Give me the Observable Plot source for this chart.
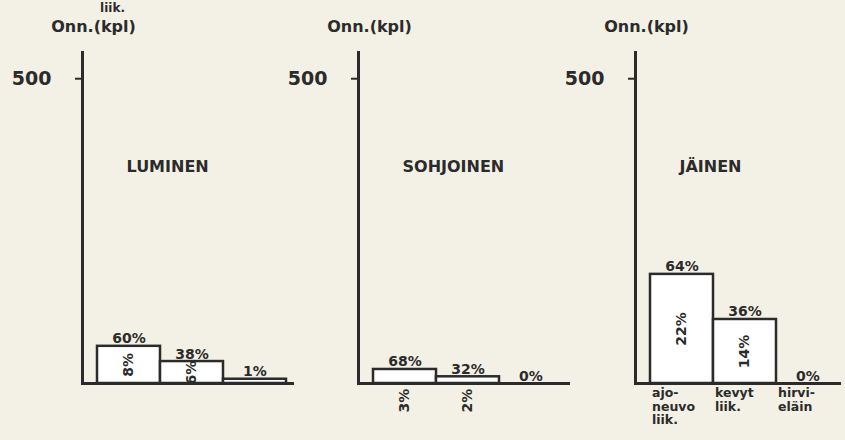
<!DOCTYPE html>
<html><head><meta charset="utf-8">
<script src="https://cdn.jsdelivr.net/npm/d3@7"></script>
<script src="https://cdn.jsdelivr.net/npm/@observablehq/plot@0.6"></script>
<style>
html,body{margin:0;padding:0;background:#f3f1e5;overflow:hidden;width:845px;height:440px;}
#chart{position:relative;width:845px;height:440px;}
#chart svg{position:absolute;top:0;}
</style></head><body><div id="chart"></div>
<script>
// ---- data ----
const categories = ["ajoneuvo liik.", "kevyt liik.", "hirvieläin"];
const categoryLabels = ["ajo-\nneuvo\nliik.", "kevyt\nliik.", "hirvi-\neläin"];
const panelTitles = ["LUMINEN", "SOHJOINEN", "JÄINEN"];
const yLabel = "Onn.(kpl)";
const yTicks = [500];
const lumCounts = [61, 36, 7];
const sohCounts = [23, 11, 0];
const jaiCounts = [179, 105, 0];
const lumShare = [60, 38, 1];
const sohShare = [68, 32, 0];
const jaiShare = [64, 36, 0];
const lumInner = [8, 6, null];
const sohInner = [3, 2, null];
const jaiInner = [22, 14, null];

const INK = "#2b2b2b";
const chart = document.getElementById("chart");

function panel(title, counts, shares, inner, showCats, left, width, marginRight, extraTop) {
  const rows = categories.map((c, i) => ({cat: c, label: categoryLabels[i], n: counts[i], share: shares[i], inner: inner[i]}));
  const AX = 82;
  const marks = [
    Plot.barY(rows, {x: "cat", y: "n", fill: "white", stroke: INK, strokeWidth: 2.5}),
    Plot.ruleY([0], {stroke: INK, strokeWidth: 3}),
    Plot.frame({anchor: "left", stroke: INK, strokeWidth: 3}),
    Plot.axisY({ticks: yTicks, tickSize: 7, tickPadding: 24, strokeWidth: 2, fontSize: 19, tickFormat: d => String(d), label: null}),
    Plot.text(rows, {x: "cat", y: "n", text: d => `${d.share}%`, lineAnchor: "bottom", dy: -3, fontSize: 14, fill: INK, style: "letter-spacing:1px"}),
    Plot.text(rows.filter(d => d.inner != null && d.n >= 30), {x: "cat", y: d => d.n / 2, text: d => `${d.inner}%`, rotate: -90, fontSize: 14, fill: INK}),
    Plot.text(rows.filter(d => d.inner != null && d.n < 30), {x: "cat", y: 0, dy: 17, text: d => `${d.inner}%`, rotate: -90, fontSize: 14, fill: INK}),
    Plot.text([title], {frameAnchor: "top-left", dx: 44, dy: 114, textAnchor: "start", lineAnchor: "middle", fontSize: 16, fill: INK}),
    Plot.text([yLabel], {frameAnchor: "top-left", dx: 11, dy: -26, textAnchor: "middle", lineAnchor: "middle", fontSize: 16, fill: INK})
  ];
  if (showCats) {
    marks.push(Plot.text(rows, {x: "cat", y: 0, text: "label", textAnchor: "start", lineAnchor: "top", dx: -30, dy: 4, lineHeight: 1.08, fontSize: 12.5, fill: INK, style: "letter-spacing:1px"}));
  }
  if (extraTop) {
    marks.push(Plot.text([extraTop], {frameAnchor: "top-left", dx: 30, dy: -49, textAnchor: "middle", lineAnchor: "top", fontSize: 12, fill: INK}));
  }
  const svg = Plot.plot({
    width, height: 440,
    marginLeft: AX, marginRight, marginTop: 52, marginBottom: 57,
    x: {domain: categories, range: [AX + 15, AX + 204], padding: 0, axis: null},
    y: {domain: [0, 543], axis: null},
    style: {background: "transparent", color: INK, fontFamily: "DejaVu Sans", fontWeight: "bold", overflow: "visible"},
    marks
  });
  svg.style.left = left + "px";
  chart.appendChild(svg);
}

panel(panelTitles[0], lumCounts, lumShare, lumInner, false, 0, 300, 6, "liik.");
panel(panelTitles[1], sohCounts, sohShare, sohInner, false, 276, 300, 6, null);
panel(panelTitles[2], jaiCounts, jaiShare, jaiInner, true, 553, 292, 4, null);
</script></body></html>
